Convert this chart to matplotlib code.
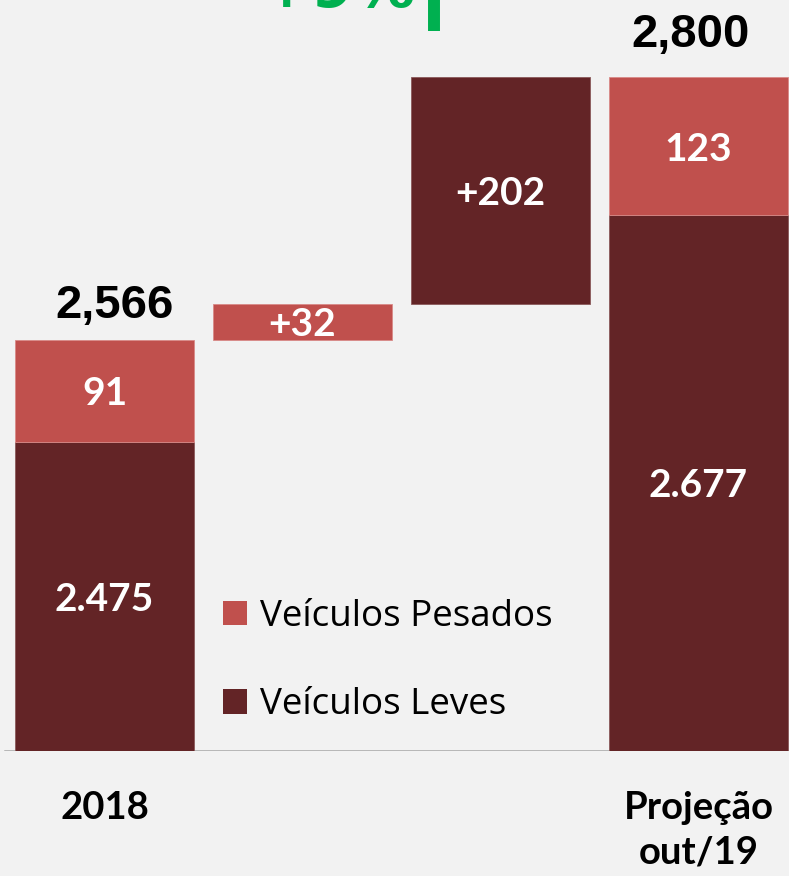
import matplotlib
matplotlib.use("Agg")
import matplotlib.pyplot as plt
from matplotlib.patches import Patch

# ---- data ----
categories = ["2018", "", "", "Projeção\nout/19"]
leves = [2475, 2677]          # Veículos Leves (2018, Projeção)
pesados = [91, 123]           # Veículos Pesados (2018, Projeção)
totals = [2566, 2800]
delta_pesados = 32
delta_leves = 202
growth_label = "+9%"
legend_labels = ["Veículos Pesados", "Veículos Leves"]

# ---- style ----
C_PES = "#c0504d"
C_LEV = "#632426"
BG = "#f2f2f2"
GREEN = "#00b050"
Y0 = 2200
YTOP = 2868.7
W = 0.904

fig = plt.figure(figsize=(7.89, 8.76), dpi=100, facecolor=BG)
ax = fig.add_axes([0, (876 - 751) / 876, 1, 751 / 876])
ax.set_facecolor(BG)
ax.set_xlim(-0.5278, 3.457)
ax.set_ylim(Y0, YTOP)

x_first, x_p, x_l, x_last = 0, 1, 2, 3

# stacked bars
for x, lv, ps in [(x_first, leves[0], pesados[0]), (x_last, leves[1], pesados[1])]:
    ax.bar(x, lv - Y0, bottom=Y0, width=W, color=C_LEV, edgecolor="#8a5a5a", linewidth=0.6, zorder=3)
    ax.bar(x, ps, bottom=lv, width=W, color=C_PES, edgecolor="#d88a88", linewidth=0.6, zorder=3)

# floating delta bars
ax.bar(x_p, delta_pesados, bottom=totals[0], width=W, color=C_PES, edgecolor="#d88a88", linewidth=0.6, zorder=3)
ax.bar(x_l, delta_leves, bottom=totals[0] + delta_pesados, width=W, color=C_LEV, edgecolor="#8a5a5a", linewidth=0.6, zorder=3)

# baseline
ax.axhline(Y0, xmin=5 / 789, xmax=1, color="#a6a6a6", linewidth=1.8, zorder=2)

lab_font = dict(family=["Lato", "DejaVu Sans"], fontweight="bold", color="white", fontsize=28,
                ha="center", va="center", zorder=5, textcoords="offset points", xytext=(0, -2))
# segment labels
ax.annotate(f"{leves[0]:,}".replace(",", "."), (x_first, (Y0 + leves[0]) / 2), **lab_font)
ax.annotate(f"{pesados[0]}", (x_first, leves[0] + pesados[0] / 2), **lab_font)
ax.annotate(f"{leves[1]:,}".replace(",", "."), (x_last, (Y0 + leves[1]) / 2), **lab_font)
ax.annotate(f"{pesados[1]}", (x_last, leves[1] + pesados[1] / 2), **lab_font)
ax.annotate(f"+{delta_pesados}", (x_p, totals[0] + delta_pesados / 2), **lab_font)
ax.annotate(f"+{delta_leves}", (x_l, totals[0] + delta_pesados + delta_leves / 2), **lab_font)

# totals
tot_font = dict(family=["Liberation Sans", "DejaVu Sans"], fontweight="bold", color="black",
                fontsize=34, ha="center", va="baseline", textcoords="offset points")
ax.annotate(f"{totals[0]:,}", (x_first, totals[0]), xytext=(7.5, 16), **tot_font)
ax.annotate(f"{totals[1]:,}", (x_last, totals[1]), xytext=(-6, 21.5), **tot_font)

# growth marker (cut off at top, as in the original)
ax.annotate(growth_label, (1.67, YTOP), xytext=(-70, -5), textcoords="offset points",
            ha="center", va="baseline", fontsize=44, fontweight="bold", color=GREEN,
            family=["DejaVu Sans"], annotation_clip=False)
ax.plot([1.664, 1.664], [totals[1] + 41, YTOP + 10], color=GREEN, linewidth=8.6,
        solid_capstyle="butt", clip_on=False, zorder=4)

# axis labels
ax.set_xticks(range(len(categories)))
ax.set_xticklabels(categories, family=["Lato", "DejaVu Sans"], fontweight="bold", fontsize=27.5,
                   linespacing=1.35)
ax.tick_params(axis="x", length=0, pad=29)
ax.set_yticks([])
for s in ax.spines.values():
    s.set_visible(False)

# legend
handles = [Patch(facecolor=C_PES, edgecolor="none"), Patch(facecolor=C_LEV, edgecolor="none")]
leg = ax.legend(handles, legend_labels, loc="upper left", bbox_to_anchor=(223 / 789, 1 - 599 / 751),
                frameon=False, prop=dict(family=["Open Sans", "DejaVu Sans"], size=26.5),
                handlelength=0.65, handleheight=0.65, handletextpad=0.35, labelspacing=1.42,
                borderpad=0, borderaxespad=0)

fig.savefig("out.png", dpi=100, facecolor=BG)
